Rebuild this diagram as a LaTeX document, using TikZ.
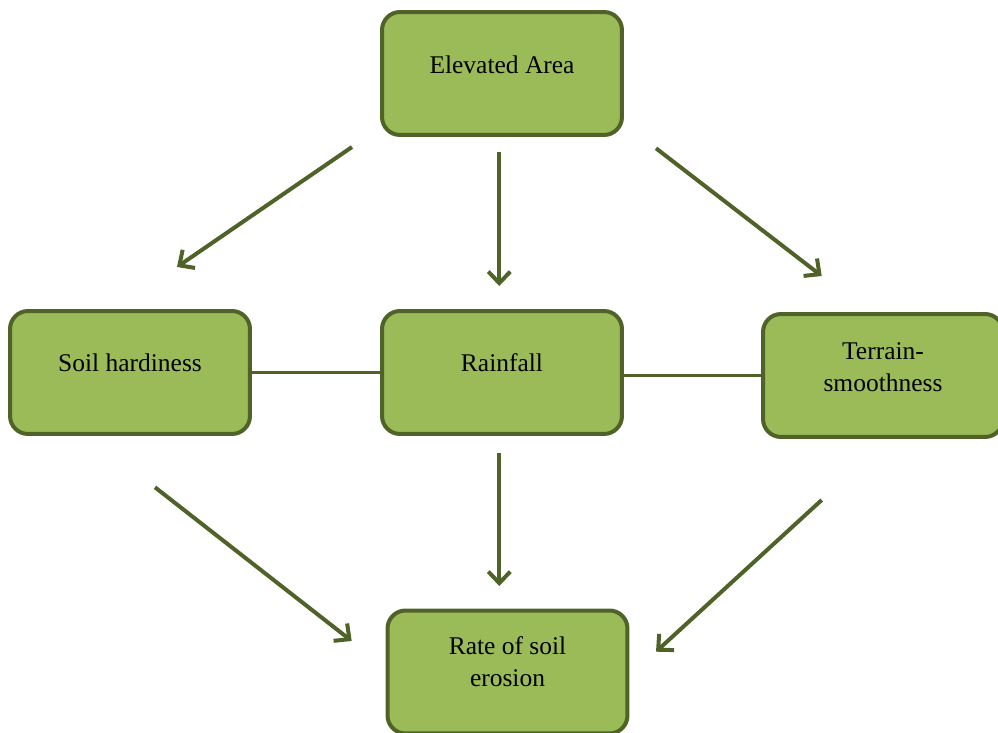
\documentclass[tikz,border=0pt]{standalone}
\usepackage{fontspec}
\setmainfont{Liberation Serif}
\usetikzlibrary{arrows.meta}
\definecolor{boxfill}{HTML}{9BBB59}
\definecolor{boxline}{HTML}{4F6228}
\begin{document}
\begin{tikzpicture}[x=0.02cm,y=-0.02cm,
  box/.style={draw=boxline,fill=boxfill,line width=0.08cm,rounded corners=0.36cm,
    minimum width=4.8cm,minimum height=2.46cm,inner sep=0pt},
  txt/.style={font=\fontsize{14.5}{18.2}\selectfont,align=center,inner sep=0pt,anchor=base},
  arr/.style={draw=boxline,line width=0.08cm,-{Straight Barb[length=0.23cm,width=0.44cm]}},
  link/.style={draw=boxline,line width=0.07cm}]
\useasboundingbox (0,0) rectangle (998,733);
\node[box] (ea) at (502,73.5) {};
\node[box] (sh) at (130,372.5) {};
\node[box] (rf) at (502,372.5) {};
\node[box] (tr) at (883,375.5) {};
\node[box] (re) at (507.5,672) {};
\node[txt] (eat) at (502,74) {Elevated Area};
\node[txt] (sht) at (130,371.7) {Soil hardiness};
\node[txt] (rft) at (502,371.7) {Rainfall};
\node[txt] (trt) at (883,391.7) {Terrain-\\smoothness};
\node[txt] (ret) at (507.5,686.7) {Rate of soil\\erosion};
\coordinate (a1s) at (352,147);
\coordinate (a1e) at (177,267);
\coordinate (a2s) at (499.3,151.7);
\coordinate (a2e) at (499.3,286);
\coordinate (a3s) at (656,148.3);
\coordinate (a3e) at (821.7,276);
\coordinate (a4s) at (155,487.3);
\coordinate (a4e) at (351.7,641);
\coordinate (a5s) at (499.3,453);
\coordinate (a5e) at (499.3,586);
\coordinate (a6s) at (821.7,500);
\coordinate (a6e) at (656,651.7);
\draw[arr] (a1s) -- (a1e);
\draw[arr] (a2s) -- (a2e);
\draw[arr] (a3s) -- (a3e);
\draw[arr] (a4s) -- (a4e);
\draw[arr] (a5s) -- (a5e);
\draw[arr] (a6s) -- (a6e);
\draw[link] (sh.east) -- (rf.west);
\draw[link] (rf.east |- tr.west) -- (tr.west);
\end{tikzpicture}
\end{document}
